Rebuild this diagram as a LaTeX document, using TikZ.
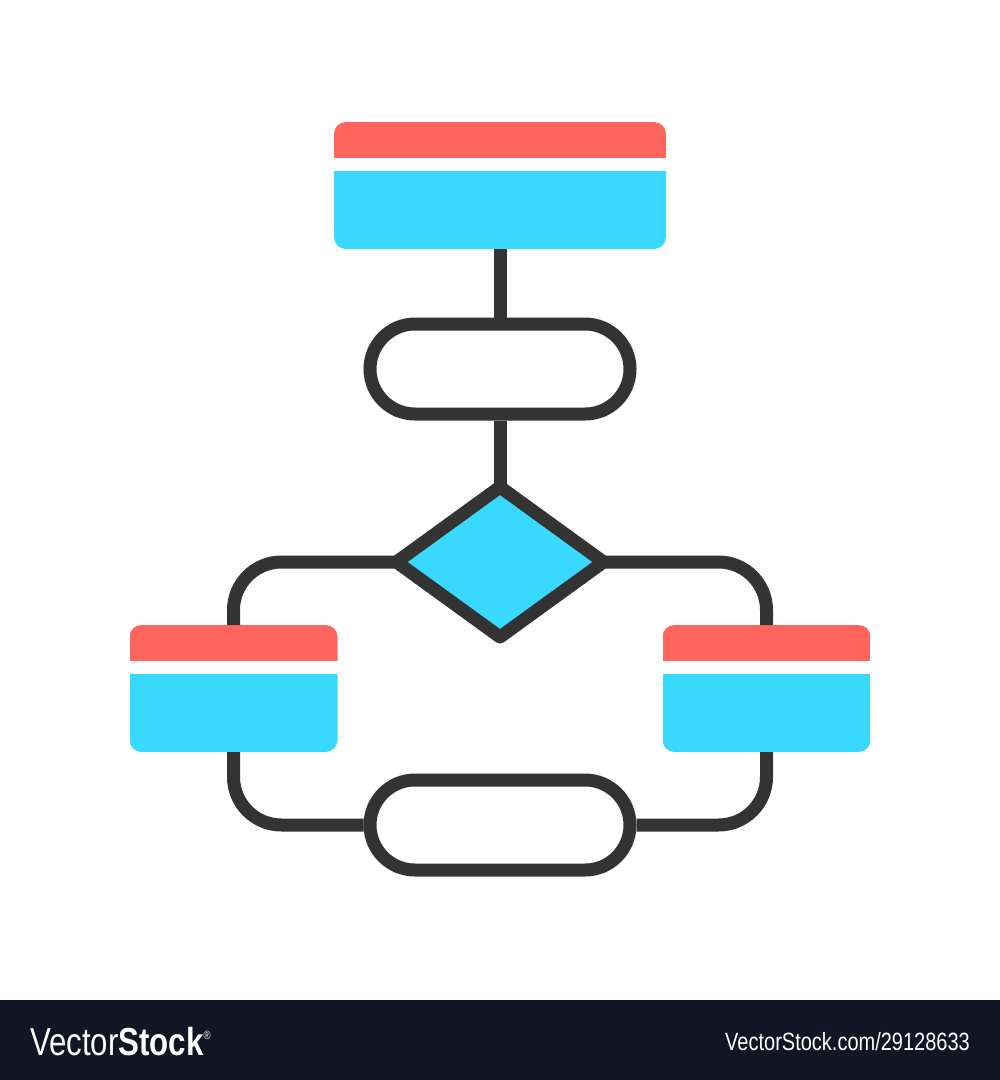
\documentclass[tikz,border=0pt]{standalone}
\usepackage{fontspec}
\setmainfont{Liberation Sans}
\definecolor{cardred}{HTML}{FF645D}
\definecolor{cardblue}{HTML}{38D8FF}
\definecolor{ink}{HTML}{333333}
\definecolor{footer}{HTML}{131424}
\tikzset{
  card/.style n args={2}{draw=none, inner sep=0pt, outer sep=0pt,
    minimum width=#1, minimum height=#2, rounded corners=12pt,
    path picture={
      \fill[cardred, sharp corners] (path picture bounding box.north west) rectangle ([yshift=-36pt]path picture bounding box.north east);
      \fill[cardblue, sharp corners] ([yshift=-49pt]path picture bounding box.north west) rectangle (path picture bounding box.south east);
    }},
  pill/.style={draw=ink, fill=white, line width=13pt, inner sep=0pt,
    minimum width=260pt, minimum height=90pt, rounded corners=45pt},
  decision/.style={draw=ink, fill=cardblue, line width=13pt, line join=round},
  link/.style={draw=ink, line width=13pt},
}
\begin{document}
\begin{tikzpicture}[x=1pt,y=-1pt]
\useasboundingbox (0,0) rectangle (1000,1080);
\fill[white] (0,0) rectangle (1000,1000);
\fill[footer] (0,1000) rectangle (1000,1080);

\node[card={332pt}{127pt}] (top) at (500,185.5) {};
\node[card={208pt}{127pt}] (left) at (233.5,688.5) {};
\node[card={208pt}{127pt}] (right) at (766.5,688.5) {};

\draw[link] (top.south) -- (500,317.5);
\node[pill] (p1) at (500,369) {};

% decision diamond
\coordinate (dN) at (500,487);
\coordinate (dE) at (603.5,562);
\coordinate (dS) at (500,637);
\coordinate (dW) at (396.5,562);

\draw[link] (p1.south) -- (dN);
\draw[link, rounded corners=48pt] (dW) -| (left.north);
\draw[link, rounded corners=48pt] (dE) -| (right.north);
\path[decision] (dN) -- (dE) -- (dS) -- (dW) -- cycle;

\node[pill] (p2) at (500,825) {};
\draw[link, rounded corners=48pt] (left.south) |- (p2.west);
\draw[link, rounded corners=48pt] (right.south) |- (p2.east);

\node[anchor=base west, xscale=0.8, inner sep=0pt, text=white,
  font=\fontsize{39}{39}\selectfont] (logo) at (30,1055)
  {Vector\textbf{Stock}\raisebox{16pt}{\fontsize{12}{12}\selectfont ®}};
\node[anchor=base east, xscale=0.8, inner sep=0pt, text=white,
  font=\fontsize{25}{25}\selectfont] (url) at (970,1050)
  {VectorStock.com/29128633};
\end{tikzpicture}
\end{document}
